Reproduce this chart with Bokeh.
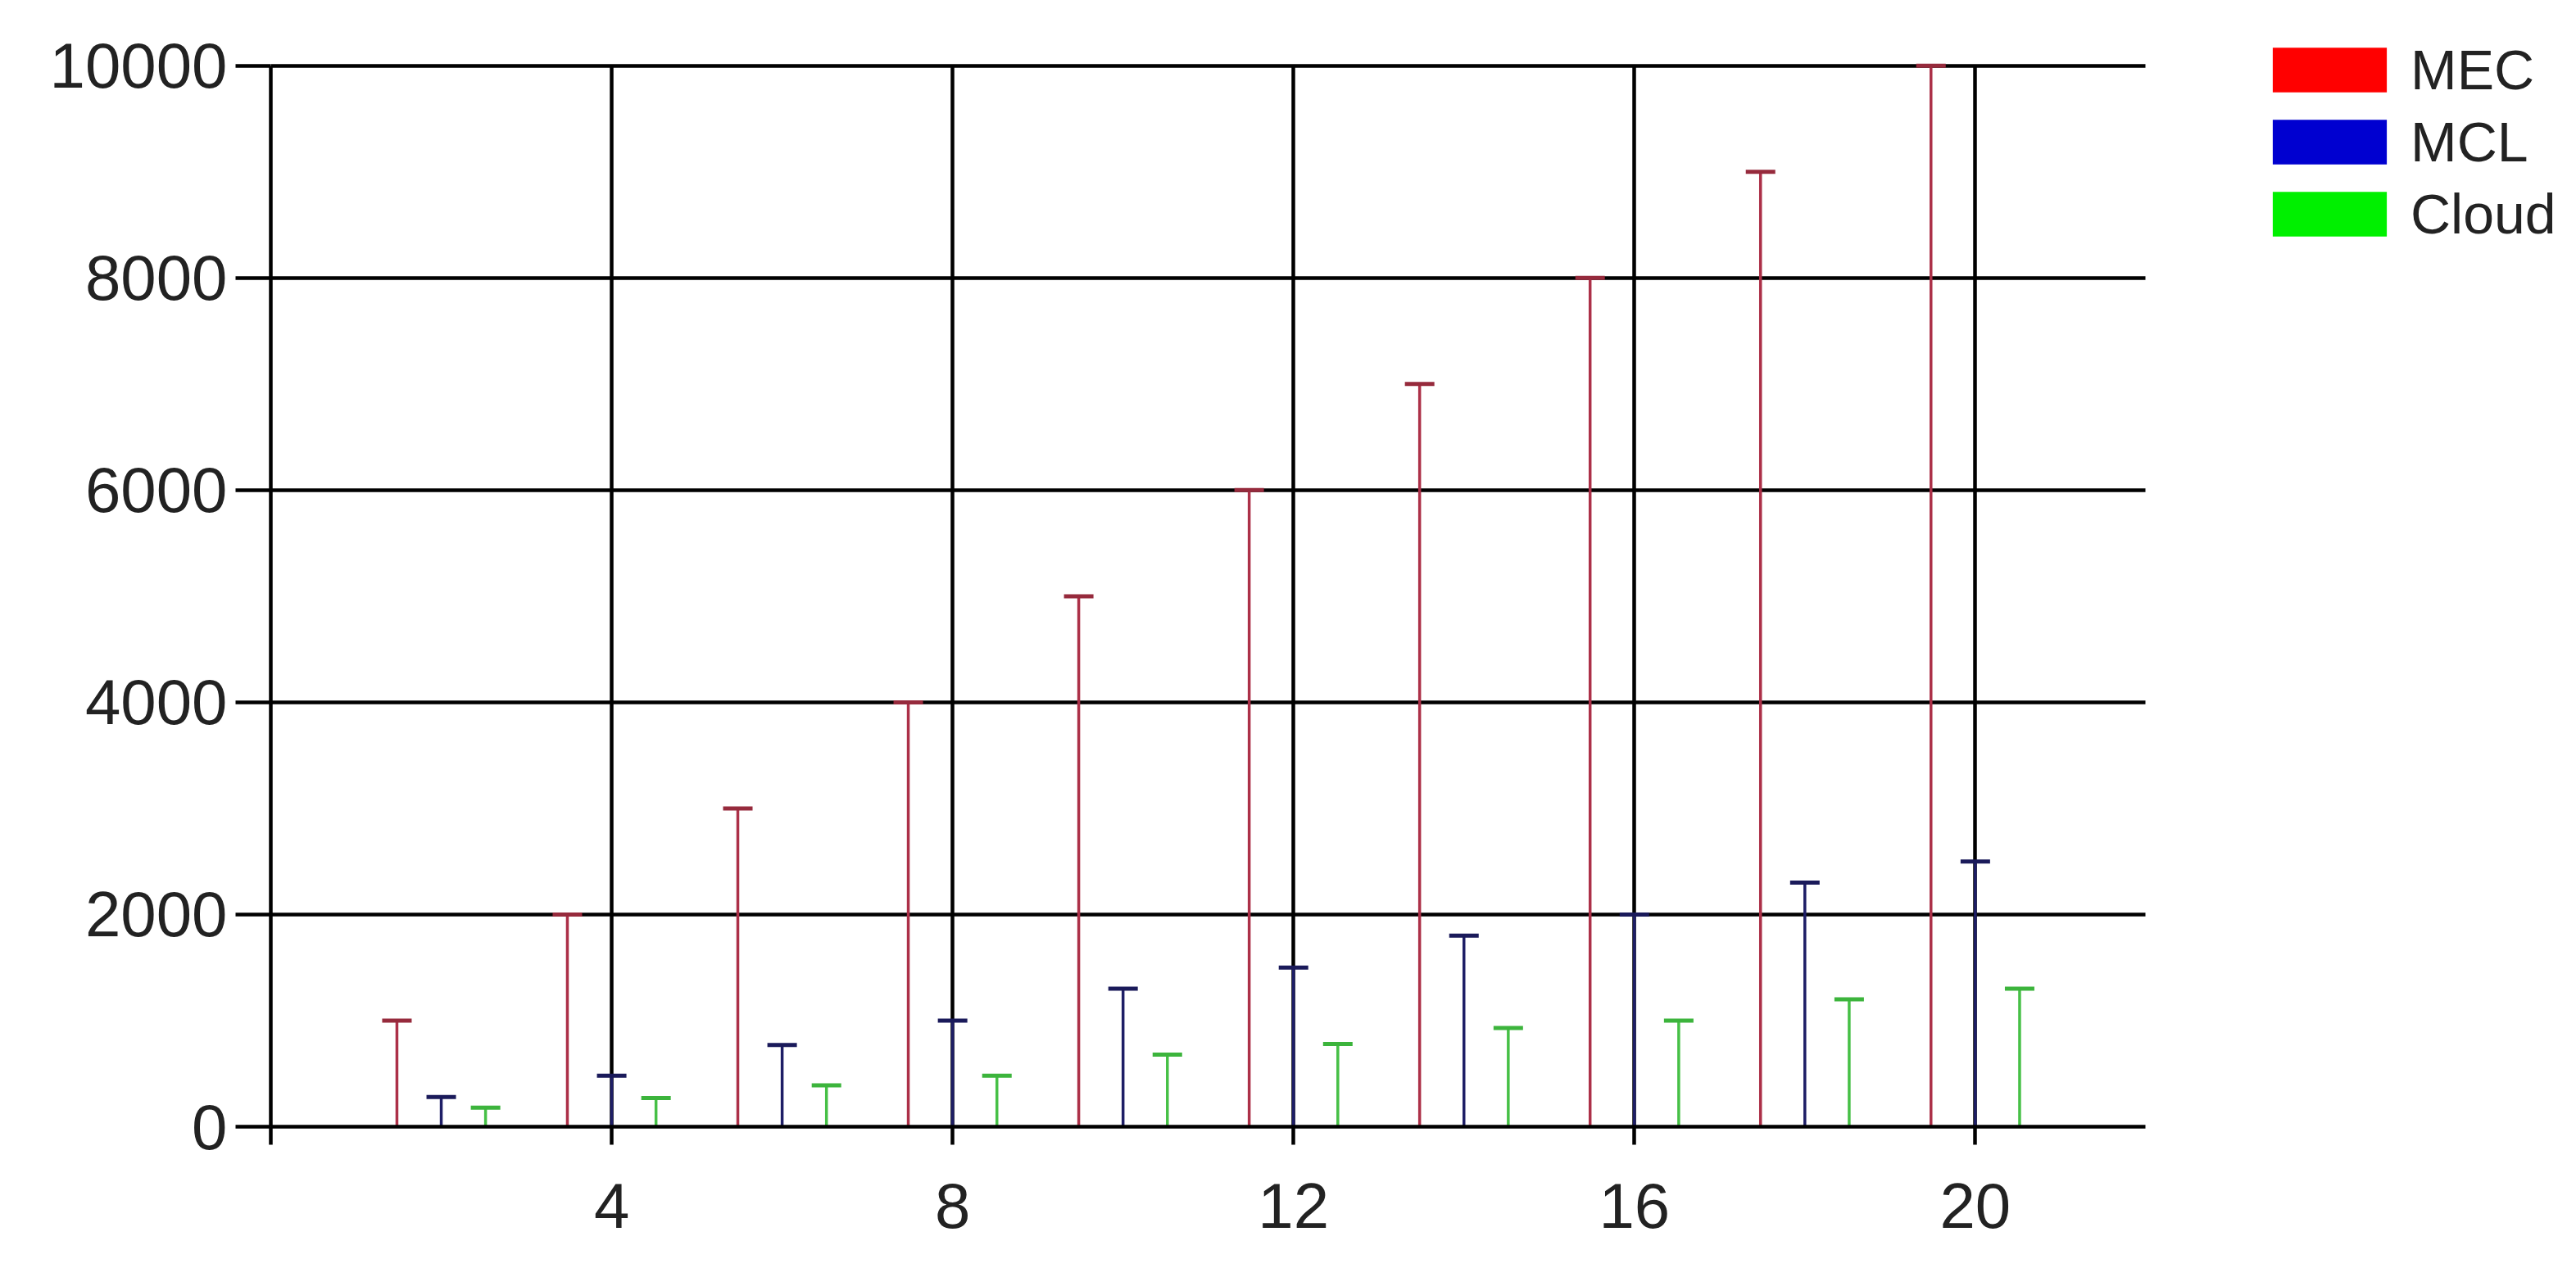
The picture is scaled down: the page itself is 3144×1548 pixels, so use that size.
from bokeh.plotting import figure
from bokeh.models import ColumnDataSource, Range1d, FixedTicker, Legend, LegendItem
from bokeh.transform import dodge
from bokeh.embed import file_html
from bokeh.resources import INLINE

groups = [2, 4, 6, 8, 10, 12, 14, 16, 18, 20]
mec = [1000, 2000, 3000, 4000, 5000, 6000, 7000, 8000, 9000, 10000]
mcl = [280, 480, 770, 1000, 1300, 1500, 1800, 2000, 2300, 2500]
cloud = [180, 270, 390, 480, 680, 780, 930, 1000, 1200, 1300]
series_names = ["MEC", "MCL", "Cloud"]
x_ticks = [0, 4, 8, 12, 16, 20]
grid_x_ticks = [4, 8, 12, 16, 20]
y_ticks = [0, 2000, 4000, 6000, 8000, 10000]
x_limits = (0, 22)
y_limits = (0, 10000)

stem_colors = ["#ac3048", "#1e1e66", "#46c046"]
cap_colors = ["#962a3c", "#1a1a5a", "#3cb43c"]
legend_colors = ["#ff0000", "#0000d0", "#00f000"]
offsets = [-0.52, 0.0, 0.52]

src = ColumnDataSource(dict(x=groups, zero=[0] * len(groups), MEC=mec, MCL=mcl, Cloud=cloud))

p = figure(width=3128, height=1532, output_backend="svg", toolbar_location=None,
           x_range=Range1d(0, 26.88), y_range=Range1d(0, 10500),
           min_border_left=330, min_border_right=2, min_border_top=15, min_border_bottom=157)
p.outline_line_color = None
p.background_fill_color = "white"

items = []
for name, sc, cc, lc, off in zip(series_names, stem_colors, cap_colors, legend_colors, offsets):
    xs = dodge("x", off)
    p.segment(x0=xs, y0="zero", x1=xs, y1=name, source=src, line_color=sc, line_width=3.5)
    p.scatter(x=xs, y=name, source=src, marker="dash", size=36, line_color=cc, line_width=5)
    # legend swatch renderer (hidden; only its legend glyph is shown)
    r = p.vbar(x=xs, top=name, width=0.03, source=src, fill_color=lc, line_color=None, visible=False)
    items.append(LegendItem(label=name, renderers=[r]))

font = "Liberation Sans"
p.xaxis.ticker = FixedTicker(ticks=x_ticks)
p.yaxis.ticker = FixedTicker(ticks=y_ticks)
p.xaxis.major_label_overrides = {0: ""}
p.xaxis.bounds = x_limits
p.yaxis.bounds = y_limits
for ax in (p.xaxis[0], p.yaxis[0]):
    ax.axis_line_color = "black"
    ax.axis_line_width = 4.5
    ax.major_tick_line_color = "black"
    ax.major_tick_line_width = 4.5
    ax.major_tick_in = 0
    ax.minor_tick_line_color = None
    ax.major_label_text_font = font
    ax.major_label_text_font_size = "78px"
    ax.major_label_text_color = "#222222"
p.xaxis.major_tick_out = 22
p.xaxis.major_label_standoff = 47
p.yaxis.major_tick_out = 43
p.yaxis.major_label_standoff = 10

p.xgrid.ticker = FixedTicker(ticks=grid_x_ticks)
p.ygrid.ticker = FixedTicker(ticks=y_ticks)
p.xgrid.cross_bounds = y_limits
p.ygrid.cross_bounds = x_limits
for g in (p.xgrid[0], p.ygrid[0]):
    g.grid_line_color = "black"
    g.grid_line_width = 4.5
    g.grid_line_alpha = 1.0

lg = Legend(items=items, location=(2426, 1075))
lg.margin = 0
lg.padding = 0
lg.border_line_color = None
lg.background_fill_alpha = 0
lg.inactive_fill_alpha = 0
lg.glyph_width = 174
lg.glyph_height = 68
lg.label_height = 68
lg.spacing = 10
lg.label_standoff = 12
lg.label_text_font = font
lg.label_text_font_size = "68px"
lg.label_text_color = "#222222"
p.add_layout(lg, "center")

open("out.html", "w").write(file_html(p, INLINE))
